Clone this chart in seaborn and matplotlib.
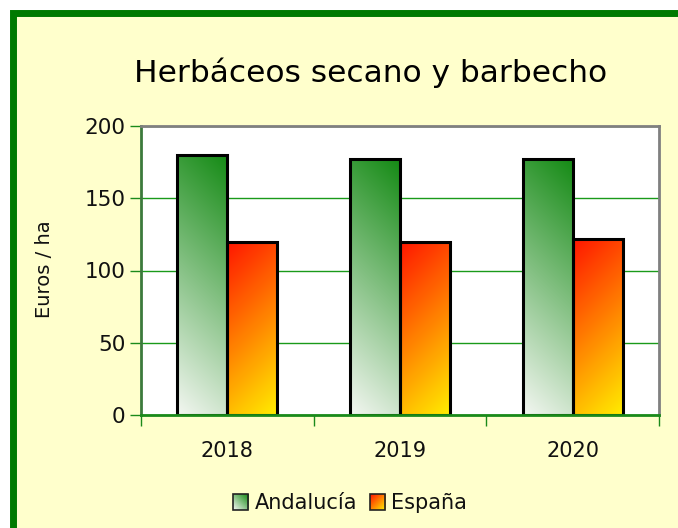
import numpy as np
import pandas as pd
import matplotlib
matplotlib.use("Agg")
import matplotlib.pyplot as plt
import seaborn as sns
from matplotlib.patches import Rectangle
from matplotlib.legend_handler import HandlerBase
from matplotlib.image import BboxImage
from matplotlib.transforms import Bbox, TransformedBbox
from matplotlib.ticker import FixedLocator

# -----------------------------
# DATA
# -----------------------------
years = ["2018", "2019", "2020"]
andalucia = [180, 177, 177]
espana = [120, 120, 122]
regions = ["Andalucía", "España"]
yticks = [0, 50, 100, 150, 200]

df = pd.DataFrame({
    "year": years * 2,
    "value": andalucia + espana,
    "region": [regions[0]] * len(years) + [regions[1]] * len(years),
})

# -----------------------------
# GRADIENTS
# -----------------------------
def make_grad(c0, c1, w, h, flip_x=False):
    # diagonal gradient, c1 at top (right or left), c0 at bottom opposite corner
    u = np.linspace(0, 1, w)[None, :]
    v = np.linspace(0, 1, h)[:, None]
    if flip_x:
        u = 1 - u
    t = (u * w + v * h) / (w + h)
    c0 = np.array(matplotlib.colors.to_rgb(c0))
    c1 = np.array(matplotlib.colors.to_rgb(c1))
    return c0[None, None, :] * (1 - t[..., None]) + c1[None, None, :] * t[..., None]

grad_cols = {
    "Andalucía": ("#f4f7f2", "#148a14", False),
    "España": ("#ffee00", "#ff1500", True),
}

# -----------------------------
# FIGURE
# -----------------------------
sns.set_theme(style="white")
plt.rcParams["font.family"] = ["DejaVu Sans"]

fig = plt.figure(figsize=(6.78, 5.28), dpi=100, facecolor="white")
fig.patches.append(Rectangle((13 / 678, -0.1), 1.2, 1 - 13 / 528 + 0.1,
                             transform=fig.transFigure, facecolor="#ffffcc",
                             edgecolor="#007a00", linewidth=5, zorder=-10))

ax = fig.add_axes([141 / 678, 1 - 415 / 528, 518 / 678, 289 / 528])
ax.set_facecolor("white")

sns.barplot(data=df, x="year", y="value", hue="region", ax=ax,
            width=0.58, palette=["#4caf50", "#ff8000"], legend=False,
            edgecolor="black", linewidth=2.2, saturation=1, zorder=2)

for cont, reg in zip(ax.containers, regions):
    c0, c1, fx = grad_cols[reg]
    for bar in cont:
        x, y, w, h = bar.get_x(), bar.get_y(), bar.get_width(), bar.get_height()
        wpx, hpx = 50, max(int(h * 1.445), 2)
        img = ax.imshow(make_grad(c0, c1, wpx, hpx, fx), extent=[x, x + w, y, y + h],
                        origin="lower", aspect="auto", zorder=1.5, interpolation="bilinear")
        img.set_clip_path(bar)
        bar.set_facecolor("none")

ax.set_xlim(-0.5, 2.5)
ax.set_ylim(0, 200)
ax.set_yticks(yticks)
ax.yaxis.grid(True, color="#1a9a1a", linewidth=1.0)
ax.set_axisbelow(True)

ax.set_xlabel("")
ax.set_ylabel("")
ax.tick_params(axis="y", which="major", length=8, width=1, color="#1a8a1a",
               direction="out", left=True, labelsize=15.5, pad=3, labelcolor="#111111")
ax.tick_params(axis="x", which="major", length=0, labelsize=15, pad=19, labelcolor="#111111")
ax.xaxis.set_minor_locator(FixedLocator([-0.5, 0.5, 1.5, 2.5]))
ax.tick_params(axis="x", which="minor", length=8, width=1, color="#1a8a1a",
               direction="out", bottom=True)

for side in ["top", "right"]:
    ax.spines[side].set_color("#808080")
    ax.spines[side].set_linewidth(2)
ax.spines["left"].set_color("#3c7a3c")
ax.spines["left"].set_linewidth(2)
ax.spines["bottom"].set_color("#1a8a1a")
ax.spines["bottom"].set_linewidth(2)

fig.text(0.546, 0.862, "Herbáceos secano y barbecho", ha="center", va="center",
         fontsize=22.5, color="black")
fig.text(0.066, 0.49, "Euros / ha", rotation=90, ha="center", va="center",
         fontsize=14, color="#111111")

# -----------------------------
# LEGEND with gradient squares
# -----------------------------
class GradHandler(HandlerBase):
    def __init__(self, arr):
        super().__init__()
        self.arr = arr

    def create_artists(self, legend, orig_handle, xdescent, ydescent,
                       width, height, fontsize, trans):
        s = min(width, height)
        x0 = -xdescent + (width - s) / 2
        y0 = -ydescent + (height - s) / 2
        bb = TransformedBbox(Bbox.from_bounds(x0, y0, s, s), trans)
        img = BboxImage(bb, interpolation="bilinear", origin="lower")
        img.set_data(self.arr)
        rect = Rectangle((x0, y0), s, s, facecolor="none", edgecolor="#222222",
                         linewidth=1.2, transform=trans)
        return [img, rect]

handles = [Rectangle((0, 0), 1, 1) for _ in regions]
hmap = {h: GradHandler(make_grad(*grad_cols[r][:2], 20, 20, grad_cols[r][2]))
        for h, r in zip(handles, regions)}
fig.legend(handles, regions, handler_map=hmap, loc="center",
           bbox_to_anchor=(0.516, 0.047), ncol=2, frameon=False, fontsize=15,
           handlelength=0.75, handleheight=0.75, handletextpad=0.3,
           columnspacing=0.6, labelcolor="#111111")

fig.savefig("out.png", dpi=100, facecolor=fig.get_facecolor())
